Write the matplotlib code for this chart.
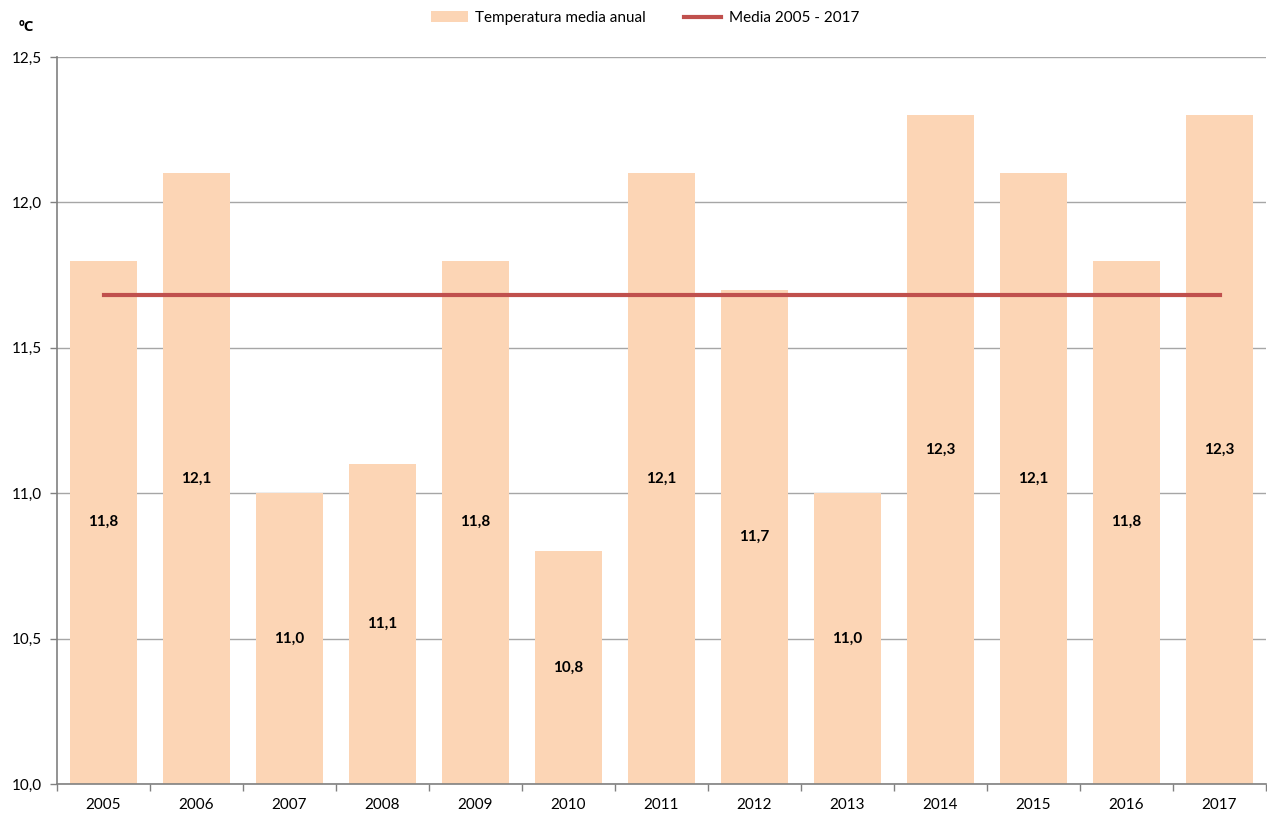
import matplotlib.pyplot as plt
import numpy as np

plt.rcParams['font.family'] = ['Lato', 'DejaVu Sans']

# data
years = ['2005', '2006', '2007', '2008', '2009', '2010', '2011',
         '2012', '2013', '2014', '2015', '2016', '2017']
temps = [11.8, 12.1, 11.0, 11.1, 11.8, 10.8, 12.1, 11.7, 11.0, 12.3, 12.1, 11.8, 12.3]
media = 11.68
y_ticks = [10.0, 10.5, 11.0, 11.5, 12.0, 12.5]

BAR_COLOR = '#FCD5B5'
LINE_COLOR = '#C0504D'
GRID_COLOR = '#A6A6A6'

fig = plt.figure(figsize=(12.67, 8.21), dpi=100)
ax = fig.add_axes([57 / 1267, 37 / 821, 1209 / 1267, 727 / 821])

x = np.arange(len(years))
bars = ax.bar(x, temps, width=0.71, color=BAR_COLOR, zorder=2)
line, = ax.plot([x[0], x[-1]], [media, media], color=LINE_COLOR, lw=3, zorder=3)

for xi, v in zip(x, temps):
    ax.text(xi, (10 + v) / 2, ('%.1f' % v).replace('.', ','), ha='center', va='center',
            fontsize=11, fontweight='bold', zorder=4)

ax.set_ylim(10, 12.5)
ax.set_xlim(-0.5, len(years) - 0.5)
ax.set_yticks(y_ticks)
ax.set_yticklabels([('%.1f' % t).replace('.', ',') for t in y_ticks], fontsize=11)
ax.set_xticks(x)
ax.set_xticklabels(years, fontsize=11)
ax.set_xticks(np.arange(-0.5, len(years)), minor=True)
ax.tick_params(axis='x', which='major', length=0, pad=10)
ax.tick_params(axis='x', which='minor', length=5, color='#808080', width=1)
ax.tick_params(axis='y', length=5, color='#808080', width=1, pad=6)

ax.grid(True, axis='y', color=GRID_COLOR, lw=1, zorder=0)
ax.set_axisbelow(True)
for s in ['top', 'right']:
    ax.spines[s].set_visible(False)
for s in ['left', 'bottom']:
    ax.spines[s].set_color('#808080')
    ax.spines[s].set_linewidth(1.2)

fig.text(19 / 1267, 1 - 27 / 821, 'ºC', fontsize=11, fontweight='bold', va='center',
         family=['Open Sans', 'DejaVu Sans'])

fig.legend([bars, line], ['Temperatura media anual', 'Media 2005 - 2017'],
           loc='center', bbox_to_anchor=(645 / 1267, 1 - 18 / 821), ncol=2, frameon=False,
           fontsize=11, handlelength=2.4, columnspacing=2.5, handletextpad=0.5)

fig.savefig('out.png', dpi=100)
